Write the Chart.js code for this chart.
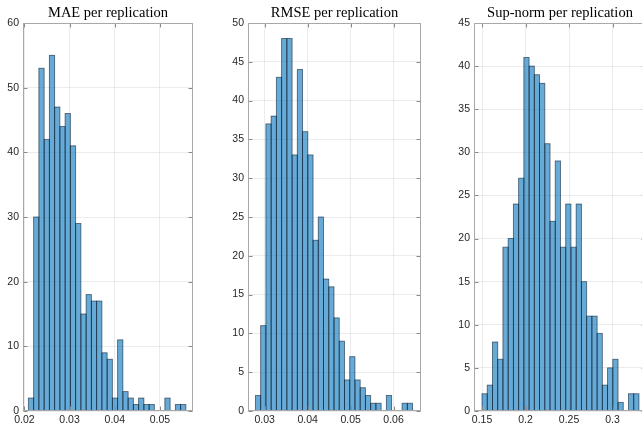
<!DOCTYPE html>
<html>
<head>
<meta charset="utf-8">
<script src="https://cdn.jsdelivr.net/npm/chart.js@4.4.0/dist/chart.umd.min.js"></script>
<style>
  html, body { margin: 0; padding: 0; background: #fff; overflow: hidden; }
  body { width: 642px; height: 431px; position: relative; }
  canvas { position: absolute; top: 0; }
</style>
</head>
<body>
<canvas id="mae" width="200" height="431" style="left:0px"></canvas>
<canvas id="rmse" width="200" height="431" style="left:225px"></canvas>
<canvas id="sup" width="200" height="431" style="left:451px"></canvas>
<script>
// counts per bin (500 replications, 30 bins each)
const maeCounts = [2, 30, 53, 42, 55, 47, 44, 46, 41, 29, 15, 18, 17, 17, 9, 8, 2, 11, 3, 2, 1, 2, 1, 1, 0, 0, 2, 0, 1, 1];
const rmseCounts = [2, 11, 37, 38, 43, 48, 48, 33, 44, 36, 33, 22, 25, 17, 16, 12, 9, 4, 7, 4, 3, 2, 1, 1, 0, 2, 0, 0, 1, 1];
const supCounts = [2, 3, 8, 6, 19, 20, 24, 27, 41, 40, 39, 38, 31, 22, 29, 19, 24, 19, 24, 15, 11, 11, 9, 3, 5, 6, 1, 0, 2, 2];

// first bin edge, bin width
const maeBin = [0.02089, 0.001161];
const rmseBin = [0.02783, 0.001220];
const supBin = [0.15, 0.006010];

// axis limits
const maeXRange = [0.0197, 0.0573];
const rmseXRange = [0.0261, 0.0664];
const supXRange = [0.1408, 0.3384];

// tick labels
const maeXTicks = [0.02, 0.03, 0.04, 0.05];
const rmseXTicks = [0.03, 0.04, 0.05, 0.06];
const supXTicks = [0.15, 0.2, 0.25, 0.3];
const maeYTicks = [0, 10, 20, 30, 40, 50, 60];
const rmseYTicks = [0, 5, 10, 15, 20, 25, 30, 35, 40, 45, 50];
const supYTicks = [0, 5, 10, 15, 20, 25, 30, 35, 40, 45];

const titles = ['MAE per replication', 'RMSE per replication', 'Sup-norm per replication'];

// dark outline round every bar, taken from the bar elements
const edgePlugin = {
    id: 'edges',
    afterDatasetsDraw(chart) {
        const { ctx } = chart;
        ctx.save();
        ctx.lineWidth = 0.9;
        ctx.strokeStyle = 'rgba(10, 30, 50, 0.62)';
        chart.getDatasetMeta(0).data.forEach(bar => {
            const p = bar.getProps(['x', 'y', 'base', 'width']);
            if (p.base - p.y < 0.5) return;
            ctx.strokeRect(p.x - p.width / 2, p.y, p.width, p.base - p.y);
        });
        ctx.restore();
    }
};

// box around the axes with inward tick marks, like matlab
const boxPlugin = {
    id: 'box',
    afterDraw(chart) {
        const { ctx, chartArea: a, scales } = chart;
        const L = Math.round(a.left) + 0.5, R = Math.round(a.right) - 0.5;
        const T = Math.round(a.top) + 0.5, B = Math.round(a.bottom) - 0.5;
        ctx.save();
        ctx.lineWidth = 1;
        ctx.strokeStyle = '#8a8a8a';
        ctx.beginPath();
        scales.x.ticks.forEach(t => {
            const x = Math.round(scales.x.getPixelForValue(t.value)) + 0.5;
            ctx.moveTo(x, B); ctx.lineTo(x, B - 4);
            ctx.moveTo(x, T); ctx.lineTo(x, T + 4);
        });
        scales.y.ticks.forEach(t => {
            const y = Math.round(scales.y.getPixelForValue(t.value)) + 0.5;
            ctx.moveTo(L, y); ctx.lineTo(L + 4, y);
            ctx.moveTo(R, y); ctx.lineTo(R - 4, y);
        });
        ctx.stroke();
        ctx.strokeStyle = '#a8a8a8';
        ctx.strokeRect(L, T, R - L, B - T);
        ctx.restore();
    }
};

const titlePlugin = {
    id: 'panelTitle',
    afterDraw(chart, args, opts) {
        const { ctx, chartArea: a } = chart;
        ctx.save();
        ctx.font = '14.5px "Liberation Serif", serif';
        ctx.fillStyle = '#000';
        ctx.textAlign = 'center';
        ctx.textBaseline = 'alphabetic';
        ctx.fillText(opts.text, (a.left + a.right) / 2, 17);
        ctx.restore();
    }
};

const fmt = v => String(+v.toFixed(4));

const makeHist = (id, title, counts, bin, xRange, xTicks, yTicks, padRight) => {
    const points = counts.map((c, i) => ({ x: bin[0] + (i + 0.5) * bin[1], y: c }));
    return new Chart(document.getElementById(id), {
        type: 'bar',
        data: {
            datasets: [{
                data: points,
                backgroundColor: 'rgba(0, 114, 189, 0.6)',
                borderWidth: 0,
                inflateAmount: 0,
                barPercentage: 1,
                categoryPercentage: 1
            }]
        },
        options: {
            responsive: false,
            animation: false,
            layout: { padding: { top: 23, left: 0, right: padRight, bottom: 0 } },
            plugins: {
                legend: { display: false },
                tooltip: { enabled: false },
                panelTitle: { text: title }
            },
            scales: {
                x: {
                    type: 'linear',
                    offset: false,
                    min: xRange[0],
                    max: xRange[1],
                    afterBuildTicks: s => { s.ticks = xTicks.map(v => ({ value: v })); },
                    afterFit: s => { s.height = 20; },
                    grid: { offset: false, color: 'rgba(0,0,0,0.075)', drawTicks: false },
                    border: { display: false },
                    ticks: {
                        autoSkip: false,
                        maxRotation: 0,
                        padding: 3,
                        color: '#262626',
                        font: { family: '"Liberation Sans", Arial, sans-serif', size: 10.5 },
                        callback: v => fmt(v)
                    }
                },
                y: {
                    min: yTicks[0],
                    max: yTicks[yTicks.length - 1],
                    afterBuildTicks: s => { s.ticks = yTicks.map(v => ({ value: v })); },
                    afterFit: s => { s.width = 23; },
                    grid: { color: 'rgba(0,0,0,0.075)', drawTicks: false },
                    border: { display: false },
                    ticks: {
                        padding: 4,
                        color: '#262626',
                        font: { family: '"Liberation Sans", Arial, sans-serif', size: 10.5 },
                        callback: v => fmt(v)
                    }
                }
            }
        },
        plugins: [edgePlugin, boxPlugin, titlePlugin]
    });
};

makeHist('mae', titles[0], maeCounts, maeBin, maeXRange, maeXTicks, maeYTicks, 7);
makeHist('rmse', titles[1], rmseCounts, rmseBin, rmseXRange, rmseXTicks, rmseYTicks, 4);
makeHist('sup', titles[2], supCounts, supBin, supXRange, supXTicks, supYTicks, 5);
</script>
</body>
</html>
